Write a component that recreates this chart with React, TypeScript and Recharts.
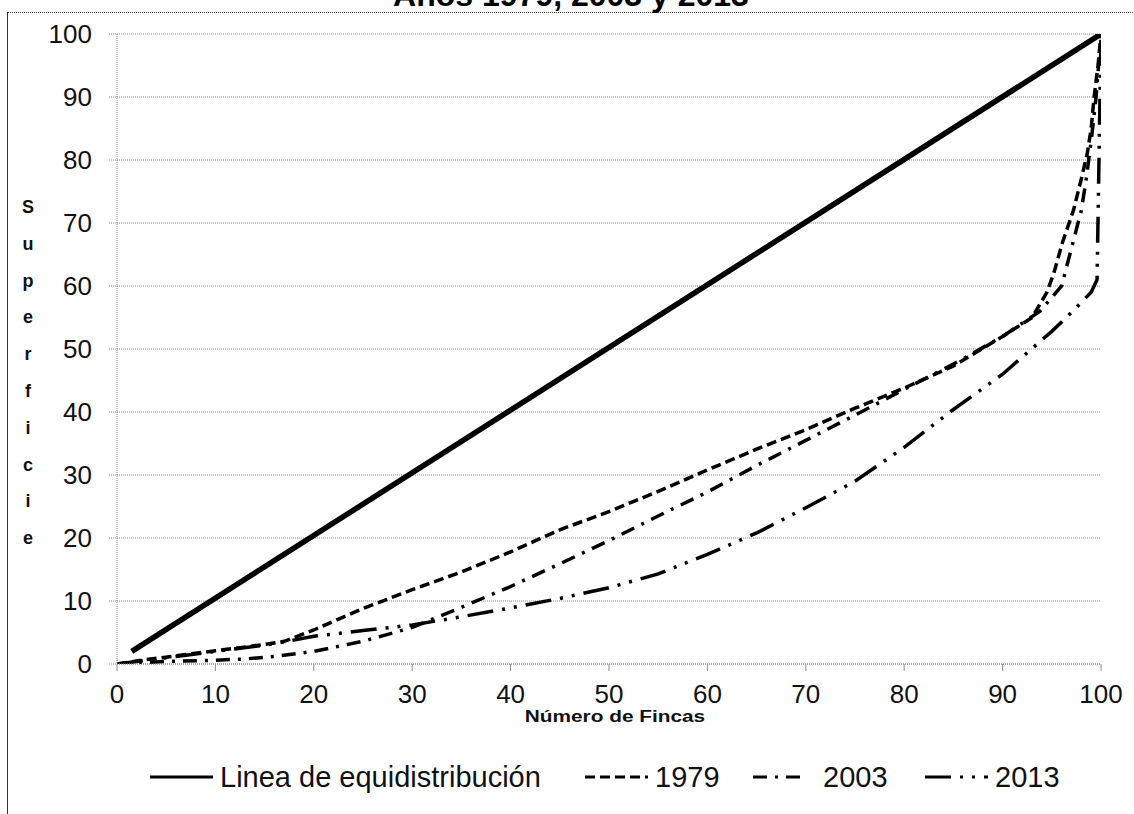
import React from 'react';
import { CartesianGrid, Legend, Line, LineChart, XAxis, YAxis } from 'recharts';

// Curvas de Lorenz: % acumulado de fincas (x) vs % acumulado de superficie (y)
const xTicks = [0, 10, 20, 30, 40, 50, 60, 70, 80, 90, 100];
const yTicks = [0, 10, 20, 30, 40, 50, 60, 70, 80, 90, 100];

const equidistribucion: [number, number][] = [
  [1.5, 2], [100, 100],
];

const serie1979: [number, number][] = [
  [0, 0], [3, 0.7], [7, 1.5], [10, 2.1], [15, 3.1], [17, 3.6], [20, 5.4], [25, 8.8],
  [30, 11.8], [35, 14.6], [40, 17.8], [45, 21.3], [50, 24.2], [55, 27.4], [60, 30.8],
  [65, 34.1], [70, 37.2], [75, 40.6], [80, 43.8], [85, 47.3], [90, 52], [93, 55],
  [94.5, 59], [95.2, 62], [96.1, 67], [97.2, 72], [98, 77], [98.6, 81], [99, 85],
  [99.3, 90], [99.7, 95], [100, 100],
];

const serie2003: [number, number][] = [
  [0, 0], [5, 0.4], [10, 0.6], [13, 0.8], [16, 1.2], [20, 2], [25, 3.6], [30, 5.8],
  [35, 9], [40, 12.3], [45, 15.9], [50, 19.6], [55, 23.5], [60, 27.3], [65, 31.5],
  [70, 35.5], [75, 39.5], [80, 43.6], [85, 47.6], [90, 52], [93.8, 56], [96, 60],
  [97, 66], [98, 72], [98.5, 77], [99, 83], [99.5, 90], [100, 100],
];

const serie2013: [number, number][] = [
  [0, 0], [3, 0.6], [7, 1.4], [10, 2], [15, 3], [17, 3.5], [20, 4.4], [25, 5.3],
  [30, 6.2], [35, 7.5], [40, 8.9], [45, 10.4], [50, 12.1], [55, 14.3], [60, 17.4],
  [65, 20.8], [70, 24.8], [75, 29], [80, 34.4], [85, 40.4], [90, 46], [95, 52.8],
  [97, 55.8], [99, 59], [99.6, 61], [100, 100],
];

const FONT = '"Liberation Sans", Arial, sans-serif';

const toPoints = (pts: [number, number][]) => pts.map(([x, y]) => ({ x, y }));

const series = [
  { name: 'Linea de equidistribución', data: toPoints(equidistribucion), width: 5.5, dash: undefined as string | undefined, legendWidth: 3 },
  { name: '1979', data: toPoints(serie1979), width: 3.5, dash: '10 5', legendWidth: 3 },
  { name: '2003', data: toPoints(serie2003), width: 3.5, dash: '14 8 3 8', legendWidth: 3 },
  { name: '2013', data: toPoints(serie2013), width: 3.5, dash: '26 9 3 9 3 9', legendWidth: 3 },
];

// posiciones de la leyenda (muestra de línea y texto)
const legendLayout = [
  { line: 150, len: 63, text: 220 },
  { line: 585, len: 63, text: 655 },
  { line: 753, len: 52, text: 823 },
  { line: 925, len: 63, text: 995 },
];

const renderLegend = () => (
  <div style={{ position: 'relative', width: 1134, height: 40, fontFamily: FONT, fontSize: 29, color: '#111' }}>
    {series.map((s, i) => (
      <React.Fragment key={s.name}>
        <svg
          style={{ position: 'absolute', left: legendLayout[i].line, top: 17 }}
          width={legendLayout[i].len}
          height={6}
        >
          <line
            x1={0}
            x2={legendLayout[i].len}
            y1={3}
            y2={3}
            stroke="#000"
            strokeWidth={s.legendWidth}
            strokeDasharray={s.dash}
          />
        </svg>
        <span style={{ position: 'absolute', left: legendLayout[i].text, top: 0, lineHeight: '40px', whiteSpace: 'nowrap' }}>
          {s.name}
        </span>
      </React.Fragment>
    ))}
  </div>
);

const yTitle = 'Superficie'.split('');

export default function App() {
  return (
    <div style={{ position: 'absolute', left: 0, top: 0, width: 1134, height: 814, background: '#fff', overflow: 'hidden' }}>
      {/* marco del gráfico */}
      <div style={{ position: 'absolute', left: 7, top: 12, width: 1127, height: 802, borderTop: '1px dotted #444', borderLeft: '1.5px solid #333' }} />
      <div
        style={{
          position: 'absolute', left: 271, top: -21, width: 600, height: 32, lineHeight: '32px',
          textAlign: 'center', fontFamily: FONT, fontWeight: 'bold', fontSize: 32, color: '#000',
        }}
      >
        Años 1979, 2003 y 2013
      </div>
      {yTitle.map((ch, i) => (
        <div
          key={i}
          style={{
            position: 'absolute', left: 18, width: 20, top: 197 + i * 36.8, height: 20, lineHeight: '20px',
            textAlign: 'center', fontFamily: FONT, fontWeight: 'bold', fontSize: 18, color: '#111',
          }}
        >
          {ch}
        </div>
      ))}
      <div
        style={{
          position: 'absolute', left: 415, width: 400, top: 709, height: 16, lineHeight: '16px',
          textAlign: 'center', fontFamily: FONT, fontWeight: 'bold', fontSize: 16, color: '#111',
          transform: 'scaleX(1.3)',
        }}
      >
        Número de Fincas
      </div>
      <LineChart
        width={1134}
        height={814}
        margin={{ top: 34, right: 33, bottom: 110, left: 0 }}
        style={{ position: 'absolute', left: 0, top: 0, fontFamily: FONT }}
      >
        <CartesianGrid vertical={false} stroke="#8c8c8c" strokeDasharray="1 1" />
        <XAxis
          type="number"
          dataKey="x"
          domain={[0, 100]}
          ticks={xTicks}
          height={40}
          tickSize={7}
          tickMargin={14}
          axisLine={{ stroke: '#8c8c8c', strokeDasharray: '1 1' }}
          tickLine={{ stroke: '#8c8c8c' }}
          tick={{ fontSize: 26, fill: '#111', fontFamily: FONT }}
          allowDataOverflow
        />
        <YAxis
          type="number"
          dataKey="y"
          domain={[0, 100]}
          ticks={yTicks}
          width={117}
          tickSize={8}
          tickMargin={17}
          axisLine={{ stroke: '#8c8c8c', strokeDasharray: '1 1' }}
          tickLine={{ stroke: '#8c8c8c', strokeDasharray: '1 1' }}
          tick={{ fontSize: 26, fill: '#111', fontFamily: FONT }}
          allowDataOverflow
        />
        <Legend
          layout="horizontal"
          verticalAlign="middle"
          align="center"
          wrapperStyle={{ top: 757, left: 0, width: 1134 }}
          content={renderLegend}
        />
        {series.map((s) => (
          <Line
            key={s.name}
            name={s.name}
            data={s.data}
            dataKey="y"
            type="linear"
            stroke="#000"
            strokeWidth={s.width}
            strokeDasharray={s.dash}
            dot={false}
            activeDot={false}
            isAnimationActive={false}
          />
        ))}
      </LineChart>
    </div>
  );
}
